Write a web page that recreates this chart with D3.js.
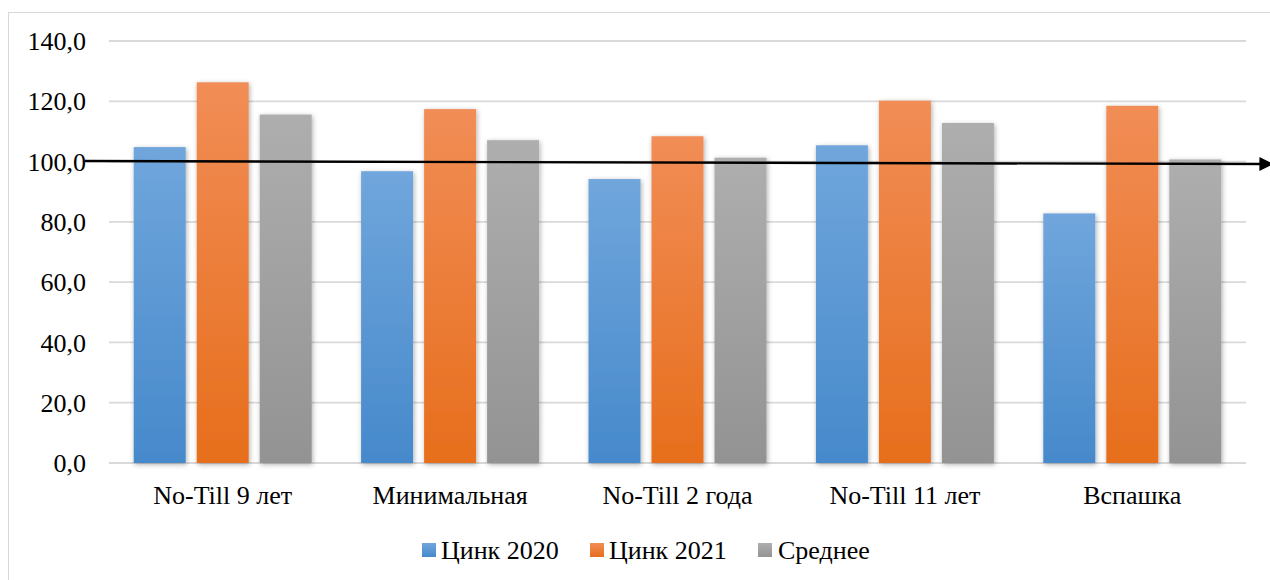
<!DOCTYPE html>
<html>
<head>
<meta charset="utf-8">
<script src="https://cdn.jsdelivr.net/npm/d3@7/dist/d3.min.js"></script>
<style>
  html, body { margin: 0; padding: 0; background: #fff; }
  svg { display: block; }
  svg text { font-family: "Liberation Serif", "Times New Roman", "DejaVu Serif", serif; }
</style>
</head>
<body>
<svg id="chart" width="1270" height="580"></svg>
<script>
// Categories (tillage systems) and series values
const categories = ["No-Till 9 лет", "Минимальная", "No-Till 2 года", "No-Till 11 лет", "Вспашка"];
const zinc2020 = [104.8, 96.8, 94.2, 105.4, 82.8];
const zinc2021 = [126.3, 117.4, 108.4, 120.2, 118.5];
const average  = [115.6, 107.1, 101.3, 112.8, 100.7];
const seriesNames = ["Цинк 2020", "Цинк 2021", "Среднее"];
const yTicks = [0, 20, 40, 60, 80, 100, 120, 140];
const referenceLevel = 100;

const series = [zinc2020, zinc2021, average];
const palette = [
  { top: "#70a6dc", bottom: "#4689cb" },
  { top: "#f18d56", bottom: "#e76e1c" },
  { top: "#aeaeae", bottom: "#939393" }
];
const serif = "'Liberation Serif', 'Times New Roman', 'DejaVu Serif', serif";

const svg = d3.select("#chart");
const defs = svg.append("defs");

palette.forEach((c, i) => {
  const g = defs.append("linearGradient")
    .attr("id", "grad" + i)
    .attr("x1", 0).attr("y1", 0).attr("x2", 0).attr("y2", 1);
  g.append("stop").attr("offset", "0%").attr("stop-color", c.top);
  g.append("stop").attr("offset", "100%").attr("stop-color", c.bottom);
});

const shadow = defs.append("filter").attr("id", "barShadow")
  .attr("x", "-30%").attr("y", "-10%").attr("width", "160%").attr("height", "120%");
shadow.append("feDropShadow")
  .attr("dx", 1).attr("dy", 1.5).attr("stdDeviation", 2.6)
  .attr("flood-color", "#000").attr("flood-opacity", 0.32);

// Chart frame
svg.append("rect")
  .attr("x", 8.5).attr("y", 12.5)
  .attr("width", 1300).attr("height", 600)
  .attr("fill", "#fff").attr("stroke", "#d9d9d9").attr("stroke-width", 1);

const plot = { left: 109, right: 1246, top: 41, bottom: 463 };

const x = d3.scaleBand().domain(categories).range([plot.left, plot.right]).padding(0);
const y = d3.scaleLinear().domain([0, 140]).range([plot.bottom, plot.top]);

const barW = 52, barStep = 63;

// Gridlines
svg.append("g").selectAll("line").data(yTicks).join("line")
  .attr("x1", plot.left).attr("x2", plot.right)
  .attr("y1", d => y(d)).attr("y2", d => y(d))
  .attr("stroke", "#d9d9d9").attr("stroke-width", 1.8);

// Y tick labels
svg.append("g").selectAll("text").data(yTicks).join("text")
  .attr("x", 86).attr("y", d => y(d))
  .attr("dy", "0.35em")
  .attr("text-anchor", "end")
  .attr("font-family", serif)
  .attr("font-size", 26)
  .attr("fill", "#000")
  .text(d => d.toFixed(1).replace(".", ","));

// Bars
const bars = svg.append("g").attr("filter", "url(#barShadow)");
series.forEach((vals, si) => {
  bars.append("g").selectAll("rect").data(vals).join("rect")
    .attr("x", (d, i) => x(categories[i]) + x.bandwidth() / 2 + (si - 1) * barStep - barW / 2)
    .attr("y", d => y(d))
    .attr("width", barW)
    .attr("height", d => y(0) - y(d))
    .attr("fill", "url(#grad" + si + ")");
});

// Category labels
svg.append("g").selectAll("text").data(categories).join("text")
  .attr("x", d => x(d) + x.bandwidth() / 2)
  .attr("y", 504)
  .attr("text-anchor", "middle")
  .attr("font-family", serif)
  .attr("font-size", 26)
  .attr("fill", "#000")
  .text(d => d);

// Reference arrow at 100
defs.append("marker").attr("id", "arrowHead")
  .attr("viewBox", "0 0 10 10").attr("refX", 9).attr("refY", 5)
  .attr("markerUnits", "userSpaceOnUse")
  .attr("markerWidth", 14).attr("markerHeight", 16)
  .attr("orient", "auto")
  .append("path").attr("d", "M0,0 L10,5 L0,10 Z").attr("fill", "#000");

svg.append("line")
  .attr("x1", 85).attr("y1", y(referenceLevel) - 0.5)
  .attr("x2", 1272).attr("y2", y(referenceLevel) + 2.5)
  .attr("stroke", "#000").attr("stroke-width", 2.4)
  .attr("marker-end", "url(#arrowHead)");

// Legend
const legendItems = [
  { sq: 422, tx: 441 },
  { sq: 590, tx: 609 },
  { sq: 758, tx: 778 }
];
const legend = svg.append("g");
seriesNames.forEach((name, i) => {
  legend.append("rect")
    .attr("x", legendItems[i].sq).attr("y", 543)
    .attr("width", 14).attr("height", 14)
    .attr("fill", "url(#grad" + i + ")");
  legend.append("text")
    .attr("x", legendItems[i].tx).attr("y", 559)
    .attr("font-family", serif)
    .attr("font-size", 26)
    .attr("fill", "#000")
    .text(name);
});
</script>
</body>
</html>
